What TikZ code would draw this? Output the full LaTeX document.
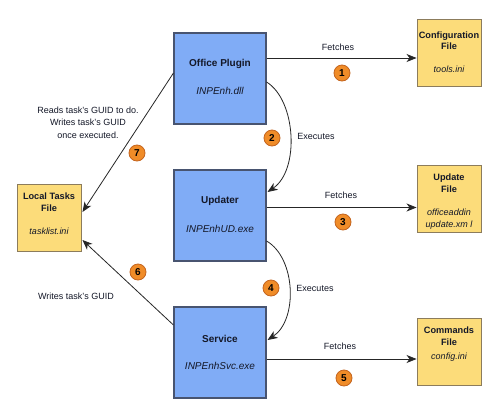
\documentclass[tikz,border=0pt]{standalone}
\usepackage{fontspec}
\setmainfont{Liberation Sans}
\usetikzlibrary{arrows.meta,calc}
\definecolor{procfill}{RGB}{128,172,246}
\definecolor{procline}{RGB}{72,84,112}
\definecolor{filefill}{RGB}{252,220,122}
\definecolor{fileline}{RGB}{140,124,92}
\definecolor{numfill}{RGB}{240,140,40}
\definecolor{numline}{RGB}{196,100,30}
\definecolor{txt}{RGB}{20,24,40}
\tikzset{
  procbox/.style={draw=procline,fill=procfill,line width=1.1pt,minimum width=92pt,minimum height=91pt,inner sep=0pt},
  filebox/.style={draw=fileline,fill=filefill,line width=0.9pt,minimum width=64pt,minimum height=67pt,inner sep=0pt},
  ptitle/.style={font=\fontsize{10}{12}\selectfont\bfseries,text=txt,inner sep=0pt},
  pfile/.style={font=\fontsize{10}{12}\selectfont\itshape,text=txt,inner sep=0pt},
  ftitle/.style={font=\fontsize{9.2}{11.5}\selectfont\bfseries,text=txt,inner sep=0pt,align=center},
  ffile/.style={font=\fontsize{9}{12}\selectfont\itshape,text=txt,inner sep=0pt,align=center},
  elabel/.style={font=\fontsize{9}{12.5}\selectfont,text=txt,inner sep=0pt,align=center},
  num/.style={circle,draw=numline,fill=numfill,line width=0.8pt,minimum size=16pt,inner sep=0pt,font=\fontsize{10}{10}\selectfont\bfseries},
  arr/.style={draw=black!85,line width=0.8pt,-{Stealth[length=10pt,width=8pt,inset=3pt]}}
}
\begin{document}
\begin{tikzpicture}[x=1pt,y=-1pt]
\useasboundingbox (0,0) rectangle (504,413);
\fill[white] (0,0) rectangle (504,413);
% process boxes
\node[procbox] (plugin) at (220,78.5) {};
\node[ptitle] (pluginT) at (220,64) {Office Plugin};
\node[pfile] (pluginF) at (220,91) {INPEnh.dll};
\node[procbox] (upd) at (220,215.5) {};
\node[ptitle] (updT) at (220,201) {Updater};
\node[pfile] (updF) at (220,229) {INPEnhUD.exe};
\node[procbox] (svc) at (220,352.5) {};
\node[ptitle] (svcT) at (220,339) {Service};
\node[pfile] (svcF) at (220,366) {INPEnhSvc.exe};
% file boxes
\node[filebox] (cfg) at (449,52.5) {};
\node[ftitle] (cfgT) at (449,40.5) {Configuration\\File};
\node[ffile] (cfgF) at (449,69) {tools.ini};
\node[filebox] (uf) at (449,199) {};
\node[ftitle] (ufT) at (449,183) {Update\\File};
\node[ffile] (ufF) at (449,219) {officeaddin\\update.xm l};
\node[filebox] (cf) at (449,351.5) {};
\node[ftitle] (cfT) at (449,336) {Commands\\File};
\node[ffile] (cfF) at (449,357) {config.ini};
\node[filebox] (lt) at (49,218) {};
\node[ftitle] (ltT) at (49,202) {Local Tasks\\File};
\node[ffile] (ltF) at (49,231) {tasklist.ini};
% fetch arrows
\draw[arr] (plugin.east |- 0,58) -- (cfg.west |- 0,58);
\draw[arr] (upd.east |- 0,207.5) -- (uf.west |- 0,207.5);
\draw[arr] (svc.east |- 0,359) -- (cf.west |- 0,359);
% execute curves
\coordinate (e2s) at (plugin.east |- 0,82);
\coordinate (e2e) at ($(upd.east |- 0,192)+(1,0)$);
\draw[arr] (e2s) .. controls (296,100) and (300,170) .. (e2e);
\coordinate (e4s) at (upd.east |- 0,241);
\coordinate (e4e) at ($(svc.east |- 0,340)+(1,0)$);
\draw[arr] (e4s) .. controls (296,258) and (298,320) .. (e4e);
% local task arrows
\coordinate (a7s) at (plugin.west |- 0,73);
\coordinate (a7e) at ($(lt.east |- 0,212)+(1,0)$);
\draw[arr] (a7s) -- (a7e);
\coordinate (a6s) at (svc.west |- 0,325);
\coordinate (a6e) at ($(lt.east |- 0,240)+(1,0)$);
\draw[arr] (a6s) -- (a6e);
% labels
\node[elabel] (l1) at (338,47.5) {Fetches};
\node[elabel] (l3) at (341,195) {Fetches};
\node[elabel] (l5) at (340,346) {Fetches};
\node[elabel] (l2) at (316,136) {Executes};
\node[elabel] (l4) at (315,288) {Executes};
\node[elabel] (l7) at (88,122.5) {Reads task's GUID to do.\\Writes task's GUID\\once executed.};
\node[elabel] (l6) at (76,296) {Writes task's GUID};
% numbers
\node[num] (n1) at (342,73) {1};
\node[num] (n2) at (272,138) {2};
\node[num] (n3) at (343,222) {3};
\node[num] (n4) at (271,288) {4};
\node[num] (n5) at (344,378) {5};
\node[num] (n6) at (138,272) {6};
\node[num] (n7) at (137,153) {7};
\end{tikzpicture}
\end{document}
